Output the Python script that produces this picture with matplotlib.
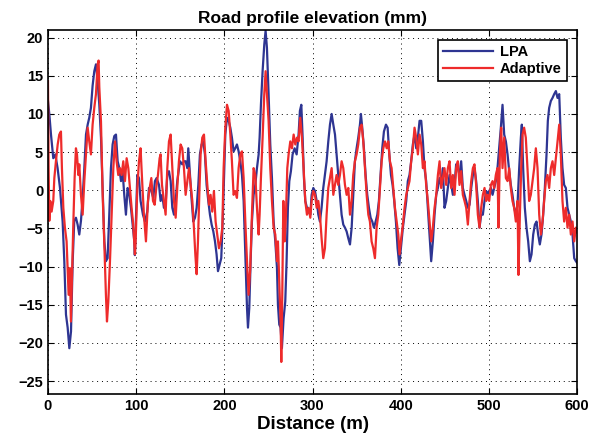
import matplotlib.pyplot as plt

plt.rcParams['font.family'] = ['Liberation Sans', 'DejaVu Sans']

# LPA 曲线 (距离 m, 高程 mm)
lpa_x = [0, 1.5, 3.4, 6, 8.3, 10.9, 13.6, 16.6, 18.5, 20.4, 22.3, 24.2, 26.1, 28, 29.8, 31.7, 33.6, 35.5, 37.4, 39.3,
         41.2, 43.1, 45, 46.8, 48.7, 50.6, 52.5, 54.4, 56.3, 58.2, 60.1, 62, 63.9, 65.7, 67.6, 69.5, 71.4, 73.3, 75.2, 77.1,
         79, 80.9, 82.8, 84.6, 86.5, 88.4, 90.3, 92.2, 94.1, 96, 97.9, 98.5,
         99.4, 101.3, 103.2, 105, 107.7, 110, 112.6, 114.5, 117.2, 119.4, 121.3, 123.2, 125.9, 127.7, 129.6, 131.5, 133.4,
         135.3, 137.2, 139.1, 141, 142.9, 144.8, 146.6, 149.7, 152.3, 154.2, 156.1, 158, 159.1, 160.6, 162.5, 164.8, 166.7,
         168.6, 170.5, 172.3, 174.2, 176.1, 178, 179.9, 181.8, 183.7, 185.6, 187.5, 189.4, 191.2, 192.8, 194.6, 196.5,
         198.4, 200, 201.1, 203, 204.9, 206.8, 208.6, 210.5, 212.4, 214.3, 216.2, 218.1, 220, 221.9, 223.8, 225.7, 226.8,
         228.3, 229.8, 231.3, 233.2, 235.1, 237, 238.9, 240, 241.5, 243.4, 245.3, 246.8, 248.3, 250.2, 252.1, 254, 255.9,
         257.8, 259.7, 260.8, 262.3, 263.8, 265.3, 267.2, 269.1, 270.6, 272.1, 273.7, 275.5, 277.4, 279.7, 282, 284.2,
         285.7, 287.3, 288.8, 290.3, 291.8, 293.7, 295.6, 297.5,
         299, 300.9, 302.8, 304.7, 306.6, 308.4, 310.3, 312.2, 314.1, 316, 317.9, 319.8, 321.7, 323.6, 325.5, 327.3, 329.2,
         331.1, 333, 334.9, 336.8, 338.7, 340.6, 342.5, 344.4, 346.2, 348.1, 350, 351.9, 353.8, 354.9, 356.4, 358.3, 360.2,
         362.1, 364, 365.9, 367.8, 369.7, 371.6, 373.5, 375.3, 377.2, 379.1, 381, 383.3, 385.2, 387.1, 389, 390.8, 392.7,
         394.6, 396.5, 398.4,
         400.6, 402.5, 404.4, 406.3, 408.1, 410, 411.9, 413.8, 415.7, 417.6, 419.5, 421.4, 423.3, 425.2, 427, 428.9, 430.8,
         432.7, 434.6, 436.5, 438.4, 440.3, 442.2, 444.1, 445.9, 447.8, 449.7, 451.6, 453.5, 455.4, 457.3, 459.2, 461.1,
         462.9, 464.8, 466.7, 468.6, 470.5, 472.4, 474.3, 476.2, 478.1, 480, 481.9, 483.7, 485.6, 487.5, 489.4, 491.3,
         493.2, 495.1, 497,
         498.5, 500.4, 502.3, 504.2, 506, 507.9, 509.8, 511.7, 513.6, 515.5, 517.4, 519.3, 521.2, 523.1, 524.9, 526.8,
         528.7, 530.6, 532.5, 534.4, 536.3, 537.4, 538.9, 540.8, 542.7, 544.6, 546.5, 548.4, 550.3, 552.2, 554.1, 555.9,
         557.8, 559.7, 561.6, 563.5, 565.4, 566.9, 568.4, 570.3, 572.2, 574.1, 576, 577.9, 579.8, 581.6, 583.5, 585.4,
         587.3, 589.2, 591.1, 593, 594.9, 596.8, 598.7, 600]
lpa_y = [11.7, 10, 7.3, 4.2, 4.7, 2.9, 0.3, -4.1, -9.3, -16.3, -18, -20.7, -18.5, -9.3, -4, -3.6, -4.5, -5.8, -4, -1,
         2.9, 7.3, 8.6, 9.5, 10.8, 13.7, 15.6, 16.5, 14.3, 11.2, 6.9, 0.3, -6.7, -9.3, -8.9, -3.2, 2.9, 6, 7.1, 7.3,
         3.8, 2.9, 1.2, 2.5, -0.6, -3.2, 0.3, -0.6, -2.3, -4.5, -6.7, -8.5,
         -5, 2, 1.6, -1.4, -3.2, -4.1, -2.8, 0.3, -0.1, -1, 1.2, 1.6, 0.7, -1.4, -0.6, -2.3, -1.9,
         2, 2.5, 1.2, -2.3, -3.2, -1.4, 1.2, 3.8, 3.4, 3.8, 3.8, 2.9, 5.5, 2.9, -0.6, -4.1, -3.6,
         -2.3, 0.7, 4.7, 6, 6.4, 4.7, 0.7, -1.4, -3.2, -4.5, -5.4, -6.7, -8.4, -10.6, -9.8, -8.9,
         -3.2, 2.9, 7.3, 9.5, 9.1, 8.2, 6.9, 5.1, 5.5, 6, 5.1, 3.8, 2, -1.4, -8.4, -15.4, -18,
         -15.4, -9.3, -4.1, -0.6, 0.7, 2.9, 4.7, 6.9, 11.2, 15.6, 19.1, 20.9, 18.7, 12.6, 6, 1.6, -4.1,
         -6.7, -10.2, -15, -17.6, -18, -20.7, -16.8, -14.6, -9.3, -2.3, 1.2, 2.5, 4.7, 5.5, 4.7, 7.3,
         10.4, 11.2, 6.9, 1.6, -1.4, -2.3, -2.8, -3.2,
         -0.6, 0.3, -0.1, -1.4, -3.2, -4.1, -2.3, 0.3, 2, 3.8, 6.4, 8.6, 10, 8.6, 7.3, 4.7, 2,
         -0.6, -3.2, -4.5, -4.9, -5.4, -6.3, -7.1, -4.9, -0.6, 3.8, 5.5, 6.9, 8.6, 10, 8.2, 5.5, 2,
         -0.6, -2.3, -3.6, -4.1, -4.9, -4.1, -3.2, -1.4, 2, 5.5, 7.7, 8.6, 8.2, 4.7, 2, 0.7, -1.4,
         -4.1, -7.6, -9.8,
         -7.1, -4.9, -3.2, -1.4, 1.2, 2, 3.8, 6, 7.3, 5.5, 6.9, 9.1, 9.1, 6.4, 2.9, 1.2, -2.3,
         -5.8, -9.3, -6.7, -3.2, -0.6, 0.3, 1.6, 0.7, 2.9, -2.3, -1.4, 0.3, 2, 0.7, -0.6, 0.7,
         3.4, 2.9, 2, 3.8, 0.3, -0.6, -1.4, -2.3, -1.9, 0.3, 2, 2.9, 1.2, -1.4, -4.9, -3.2,
         -3.2, -1.4, -0.1,
         -0.6, -0.1, 0.3, -0.6, 0.3, 1.2, 2.9, 5.5, 8.2, 11.2, 7.3, 6.4, 4.7, 2.5, 0.7, -0.6,
         -2.3, -3.2, -1.9, 2.9, 6.9, 8.6, 2.9, -2.3, -4.9, -6.7, -9.3, -8.4, -5.8, -4.5, -4.1, -5.8,
         -7.1, -5.8, -3.2, 0.3, 4.7, 9.1, 10.8, 11.7, 12.1, 12.6, 13, 12.1, 12.6, 6.9, 2.9, 0.7,
         0.3, -2.3, -3.2, -4.1, -5.8, -8.9, -9.3, -9.5]

# Adaptive 曲线
adp_x = [0, 0.7, 1.5, 2.6, 4.1, 6, 7.2, 9, 11, 12.8, 14.7, 15.8, 17.4, 19.2, 21.1, 22.3, 23.4, 24.9, 26, 27.2,
         28.7, 30.2, 31.7, 32.9, 34.4, 35.5, 37.4, 39.3, 41.2, 43.1, 45, 46.8, 48.7, 50.6, 52.5, 54.4, 56.3, 57.4, 58.2,
         60.1, 62, 63.9, 65.7, 66.9, 68.4, 70.3, 72.2, 74.1, 76, 77.8, 79.7, 81.6, 83.5, 85.4, 87.3, 89.2, 91.1, 93,
         94.8, 96.7, 98.6,
         99.4, 101.3, 103.2, 105, 107, 108.8, 111.1, 113.4, 115.3, 117.2, 119.1, 121, 122.8, 124.7, 126.6, 127.7, 129.3,
         131.5, 133.4, 135.3, 137.2, 139.1, 141, 142.9, 144.8, 146.6, 148.5, 150.4, 152.3, 154.2, 156.1, 158, 159.9,
         161.8, 163.7, 165.5, 167.1, 168.6, 170.1, 171.6, 173.1, 175, 176.9, 178.8, 180.7, 182.6, 184.4, 186.3, 188.2,
         190.1, 192, 193.9, 195.8, 197.7,
         199.2, 201.1, 203, 204.9, 206.8, 208.6, 210.5, 212.4, 214.3, 216.2, 218.1, 220, 221.9, 223.8, 225.7, 227.5,
         229.4, 231.3, 233.2, 235.1, 237, 238.9, 240, 241.5, 243.4, 245.3, 246.8, 248.3, 250.2, 252.1, 254, 255.9, 257.8,
         259.7, 260.8, 262.3, 263.8, 264.6, 265.7, 266.9, 268.4, 269.9, 271.4, 272.9, 274.8, 276.7, 278.6, 280.5, 282.4,
         284.2, 286.1, 288, 289.9, 291.8, 293.7, 295.6, 297.5,
         299, 300.9, 302.8, 304.7, 306.6, 308.4, 310.3, 312.2, 314.1, 316, 317.9, 319.8, 321.7, 323.6, 325.5, 327.3,
         329.2, 331.1, 333, 334.9, 336.8, 338.7, 340.6, 342.5, 344.4, 346.2, 348.1, 350, 351.9, 353.8, 355.7, 357.6,
         359.5, 361.4, 363.3, 365.1, 367, 368.9, 370.8, 372.7, 374.6, 376.5, 378.4, 380.3, 382.2, 384.1, 385.9, 387.8,
         389.7, 391.6, 393.5, 395.4, 397.3, 398.7,
         400.6, 402.5, 404.4, 406.3, 408.1, 410, 411.9, 413.8, 415.7, 417.6, 419.5, 421.4, 423.3, 425.2, 427, 428.9,
         430.8, 432.7, 434.6, 436.5, 438.4, 440.3, 442.2, 444.1, 445.9, 447.8, 449.7, 451.6, 453.5, 455.4, 457.3, 459.2,
         461.1, 462.9, 464.8, 466.7, 468.6, 470.5, 472.4, 474.3, 476.2, 478.1, 480, 481.9, 483.7, 485.6, 487.5, 489.4,
         491.3, 493.2, 495.1, 497,
         498.5, 500.4, 502.3, 504.2, 506, 507.9, 509.8, 510.9, 512.5, 514, 515.5, 517.4, 519.3, 521.2, 523.1, 524.9,
         526.8, 528.7, 530.6, 532.5, 533.6, 535.2, 536.7, 538.2, 540, 541.9, 543.8, 545.7, 547.6, 549.5, 551.4, 553.3,
         555.2, 557.1, 559, 560.9, 562.7, 564.6, 566.5, 568.4, 570.3, 572.2, 574.1, 576, 577.9, 579.8, 581.6, 583.5,
         585.4, 587.3, 589.2, 591.1, 593, 594.9, 596.8, 598.7, 600]
adp_y = [14.3, 2.9, -4, -1.4, -2.8, -1.4, 1.6, 3.8, 6, 7.3, 7.7, 2.9, -2.3, -4.9, -6.7, -10.2, -13.7, -10.2, -17.2, -11.5,
         -4.5, 1.6, 5.5, 4.7, 2, 3.4, -0.6, -3.2, 1.2, 4.7, 8.2, 6.4, 4.7, 8.6, 10.8, 12.6, 16.5, 17, 13.5,
         9, -0.6, -7.1, -13.7, -17.2, -14.6, -9.3, -3.2, 2.9, 6.4, 3.8, 2, 2.9, 2, 3.8, 1.2, 4.2, 2.9, 0.3,
         -2.3, -4.5, -8.4,
         -6.7, 0.3, 3.8, 5.5, 0.7, -3.2, -6.7, -1.4, 0.3, 1.6, -1.4, -1.9, 0.3, 2, 4.2, 4.7, 0.7,
         -1.4, -3.2, 2.9, 6.4, 7.3, 2.9, -1.4, -3.6, 0.3, 3.8, 6, 5.5, 2.9, -0.6, 1.2, 2.9,
         0.7, -1.4, -4.9, -8.4, -11, -6.7, -0.6, 4.7, 6.9, 7.3, 3.8, 0.7, -1.9, -0.6, -2.8, -0.1,
         -4.1, -5.8, -7.6, -6.7, -4.9,
         2.9, 8.2, 11.2, 10.4, 7.3, 3.8, -0.6, -0.1, -1, 2.9, 4.7, 5.1, 1.6, -4.1, -9.3, -13.7,
         -10.2, -3.2, 2.9, 2, -2.3, -5.8, -3.2, 1.6, 6.9, 12.6, 15.6, 12.6, 9.1, 2.9, -1.4, -4.9, -5.8,
         -9.3, -6.7, -12, -17.2, -22.5, -13.7, -1.4, -6.7, -3.2, 2.9, 4.7, 6.4, 5.5, 7.3, 6, 6.9,
         6.4, 9.5, 6.9, 2.9, -1.4, -3.2, -2.3, -3.6,
         -1.4, -0.1, -0.6, -2.3, -1.4, -3.2, -6.3, -8.9, -7.6, -3.2, 0.3, 1.6, 2.9, -0.6, 0.7, 2,
         0.7, 2, 3.8, 2.9, 0.7, -0.6, 0.3, -3.2, -1.4, 2, 3.8, 4.7, 6, 8.2, 8.6, 6.4,
         2.9, -0.6, -3.2, -4.1, -6.7, -7.6, -8.9, -4.9, -3.2, 0.3, 3.8, 5.5, 6.4, 5.5, 6.4, 3.8,
         2.9, 0.3, -2.3, -4.1, -5.8, -8.4,
         -6.3, -4.5, -2.3, -0.6, 0.3, 1.2, 3.8, 5.5, 8.2, 6.9, 4.7, 7.3, 6, 2.9, 3.8, 0.7,
         -1.4, -4.1, -6.7, -4.9, -2.3, -0.6, 2, 3.8, 0.3, 1.6, 2.9, 0.7, 2.9, 3.8, 0.3, 2,
         -0.6, 2.9, 3.8, 0.7, 2.5, -0.6, -1.4, -2.3, -4.5, -1.4, 1.2, 2.9, 3.4, 0.7, -3.2, -4.9,
         -2.3, -0.6, 0.3, -1.4,
         -0.6, -1.4, 0.7, 1.2, 0.3, 2, 2.9, -4.9, 4.7, 8.2, 2.9, 6.9, 1.6, 1.2, 2.9, 0.3,
         -1.4, -2.3, -4.1, -1.4, -11.1, -3.2, 2.9, 7.3, 8.2, 6.9, 2.9, -1.4, -0.6, 1.2, 2.9, 5.5,
         2.9, -3.2, -5.8, -4.1, -1.4, 1.2, 2, 0.3, 2.9, 3.8, 2, 4.2, 6.4, 8.6, 4.7, -1.4,
         -4.1, -2.3, -4.9, -3.2, -5.8, -4.1, -6.7, -4.9, -5.5]

fig = plt.figure(figsize=(6.09, 4.46), dpi=100)
ax = fig.add_axes([0.0788, 0.1166, 0.8687, 0.8161])

ax.plot(lpa_x, lpa_y, color='#2e3592', lw=1.6, label='LPA')
ax.plot(adp_x, adp_y, color='#ee2b2b', lw=1.6, label='Adaptive')

ax.set_xlim(0, 600)
ax.set_ylim(-26.7, 21)
ax.set_xticks(range(0, 601, 100))
ax.set_yticks(range(-25, 21, 5))
ax.tick_params(direction='in', top=True, right=True, labelsize=10.5, length=4)
for lab in ax.get_xticklabels() + ax.get_yticklabels():
    lab.set_fontweight('bold')
ax.grid(True, color='black', linestyle=(0, (1, 4)), linewidth=0.7)
for s in ax.spines.values():
    s.set_linewidth(1.2)

ax.set_title('Road profile elevation (mm)', fontsize=12.5, fontweight='bold', pad=5)
ax.set_xlabel('Distance (m)', fontsize=13.5, fontweight='bold', labelpad=2)

leg = ax.legend(loc='upper right', fontsize=10.5, handlelength=3.4, borderaxespad=0.7,
                fancybox=False, framealpha=1, edgecolor='black', labelspacing=0.2,
                borderpad=0.35, handletextpad=0.5)
leg.get_frame().set_linewidth(1.2)
for t in leg.get_texts():
    t.set_fontweight('bold')

plt.savefig('out.png', dpi=100)
